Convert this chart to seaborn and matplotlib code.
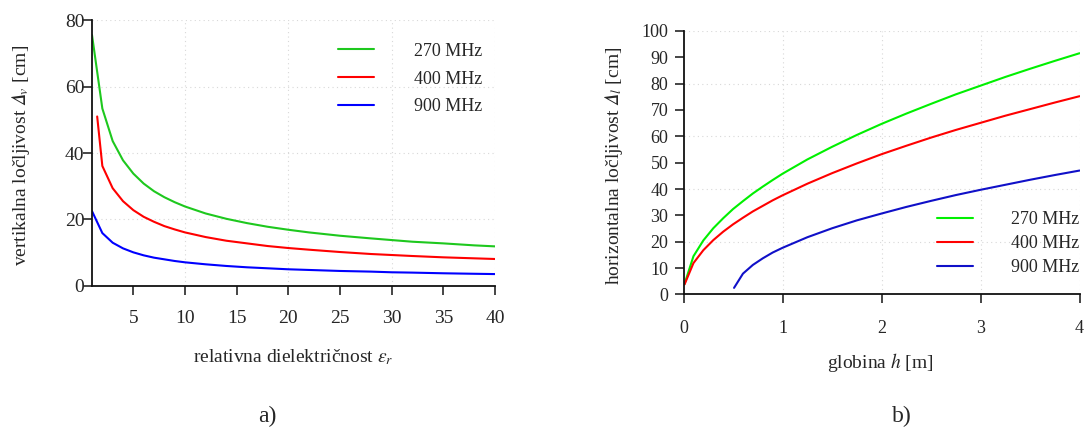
import numpy as np
import pandas as pd
import matplotlib
matplotlib.use("Agg")
import matplotlib.pyplot as plt
import seaborn as sns

# --- a) vertical resolution vs relative permittivity ---
er_270 = [1, 2, 3, 4, 5, 6, 7, 8, 9, 10, 12, 14, 16, 18, 20, 22, 25, 28, 30, 32, 35, 38, 40]
dv_270 = [75.5, 53.4, 43.6, 37.8, 33.8, 30.8, 28.5, 26.7, 25.2, 23.9, 21.8, 20.2, 18.9, 17.8,
          16.9, 16.1, 15.1, 14.3, 13.8, 13.3, 12.8, 12.2, 11.9]
er_400 = [1.5, 2, 3, 4, 5, 6, 7, 8, 9, 10, 12, 14, 16, 18, 20, 22, 25, 28, 30, 32, 35, 38, 40]
dv_400 = [51.0, 36.1, 29.4, 25.5, 22.8, 20.8, 19.3, 18.0, 17.0, 16.1, 14.7, 13.6, 12.8, 12.0,
          11.4, 10.9, 10.2, 9.6, 9.3, 9.0, 8.6, 8.3, 8.1]
er_900 = [1, 2, 3, 4, 5, 6, 7, 8, 9, 10, 12, 14, 16, 18, 20, 22, 25, 28, 30, 32, 35, 38, 40]
dv_900 = [22.5, 15.9, 13.0, 11.3, 10.1, 9.2, 8.5, 8.0, 7.5, 7.1, 6.5, 6.0, 5.6, 5.3,
          5.0, 4.8, 4.5, 4.3, 4.1, 4.0, 3.8, 3.65, 3.56]

# --- b) horizontal resolution vs depth ---
h_270 = [0.01, 0.1, 0.2, 0.3, 0.4, 0.5, 0.6, 0.7, 0.8, 0.9, 1.0, 1.25, 1.5, 1.75,
         2.0, 2.25, 2.5, 2.75, 3.0, 3.25, 3.5, 3.75, 4.0]
dl_270 = [4.0, 14.5, 20.5, 25.1, 28.9, 32.4, 35.4, 38.3, 40.9, 43.4, 45.8, 51.2, 56.0, 60.5,
          64.7, 68.6, 72.3, 75.9, 79.2, 82.5, 85.6, 88.6, 91.5]
h_400 = h_270
dl_400 = [3.8, 11.9, 16.8, 20.6, 23.8, 26.6, 29.1, 31.5, 33.6, 35.7, 37.6, 42.0, 46.0, 49.7,
          53.2, 56.4, 59.5, 62.4, 65.1, 67.8, 70.3, 72.8, 75.2]
h_900 = [0.51, 0.6, 0.7, 0.8, 0.9, 1.0, 1.25, 1.5, 1.75, 2.0, 2.25, 2.5, 2.75, 3.0,
         3.25, 3.5, 3.75, 4.0]
dl_900 = [2.5, 7.9, 11.2, 13.7, 15.9, 17.7, 21.7, 25.1, 28.1, 30.7, 33.2, 35.5, 37.7, 39.7,
          41.6, 43.5, 45.3, 47.0]

labels = ["270 MHz", "400 MHz", "900 MHz"]

df_a = pd.concat([
    pd.DataFrame({"x": er_270, "y": dv_270, "f": labels[0]}),
    pd.DataFrame({"x": er_400, "y": dv_400, "f": labels[1]}),
    pd.DataFrame({"x": er_900, "y": dv_900, "f": labels[2]}),
])
df_b = pd.concat([
    pd.DataFrame({"x": h_270, "y": dl_270, "f": labels[0]}),
    pd.DataFrame({"x": h_400, "y": dl_400, "f": labels[1]}),
    pd.DataFrame({"x": h_900, "y": dl_900, "f": labels[2]}),
])

sns.set_style("ticks")
plt.rcParams["font.family"] = ["Liberation Serif", "DejaVu Serif"]
plt.rcParams["mathtext.fontset"] = "stix"
plt.rcParams["axes.linewidth"] = 1.3
plt.rcParams["xtick.major.size"] = 6.5
plt.rcParams["ytick.major.size"] = 6.5
plt.rcParams["xtick.major.width"] = 1.2
plt.rcParams["ytick.major.width"] = 1.2
plt.rcParams["axes.edgecolor"] = "#111111"

fig = plt.figure(figsize=(10.85, 4.28), dpi=100)
ax1 = fig.add_axes([0.0848, 0.332, 0.3714, 0.621])
ax2 = fig.add_axes([0.630, 0.312, 0.365, 0.616])

pal_a = {labels[0]: "#1ec81e", labels[1]: "#ff0000", labels[2]: "#0000ff"}
pal_b = {labels[0]: "#00f000", labels[1]: "#ff0000", labels[2]: "#1010c8"}

sns.lineplot(data=df_a, x="x", y="y", hue="f", palette=pal_a, ax=ax1,
             linewidth=1.5, sort=False, estimator=None)
sns.lineplot(data=df_b, x="x", y="y", hue="f", palette=pal_b, ax=ax2,
             linewidth=1.5, sort=False, estimator=None)

grid_kw = dict(color="#d8d8d8", linestyle=(0, (1, 3)), linewidth=0.8, zorder=0)

# left panel
ax1.set_xlim(1, 40)
ax1.set_ylim(0, 80)
ax1.set_xticks([5, 10, 15, 20, 25, 30, 35, 40])
ax1.set_yticks([0, 20, 40, 60, 80])
for v in [10, 20, 30, 40]:
    ax1.axvline(v, **grid_kw)
for v in [20, 40, 60, 80]:
    ax1.axhline(v, **grid_kw)
ax1.tick_params(axis="x", labelsize=14, pad=11)
ax1.tick_params(axis="y", labelsize=14, pad=-1)
ax1.set_xlabel(r"relativna dielektričnost $\varepsilon_r$", fontsize=14)
ax1.set_ylabel("vertikalna ločljivost $\U0001D6E5_v$ [cm]", fontsize=14)
ax1.xaxis.set_label_coords(0.499, -0.23)
ax1.yaxis.set_label_coords(-0.15, 0.49)
ax1.legend(loc="upper right", frameon=False, fontsize=13, handlelength=2.0,
           handletextpad=2.2, labelspacing=0.6, borderpad=0, borderaxespad=0,
           bbox_to_anchor=(0.968, 0.915))

# right panel
ax2.set_xlim(0, 4)
ax2.set_ylim(0, 100)
ax2.set_xticks([0, 1, 2, 3, 4])
ax2.set_yticks(np.arange(0, 101, 10))
for v in [1, 2, 3, 4]:
    ax2.axvline(v, **grid_kw)
for v in [20, 40, 60, 80, 100]:
    ax2.axhline(v, **grid_kw)
ax2.tick_params(axis="x", labelsize=13, pad=12)
ax2.tick_params(axis="y", labelsize=13, pad=4.5)
ax2.set_xlabel(r"globina $h$ [m]", fontsize=14)
ax2.set_ylabel("horizontalna ločljivost $\U0001D6E5_l$ [cm]", fontsize=14)
ax2.xaxis.set_label_coords(0.496, -0.215)
ax2.yaxis.set_label_coords(-0.148, 0.487)
ax2.legend(loc="lower right", frameon=False, fontsize=13, handlelength=2.0,
           handletextpad=2.1, labelspacing=0.38, borderpad=0, borderaxespad=0,
           bbox_to_anchor=(1.0, 0.07))

for ax in (ax1, ax2):
    sns.despine(ax=ax)

fig.text(0.246, 0.028, "a)", fontsize=17, ha="center", va="center")
fig.text(0.831, 0.028, "b)", fontsize=17, ha="center", va="center")

fig.savefig("out.png", dpi=100)
